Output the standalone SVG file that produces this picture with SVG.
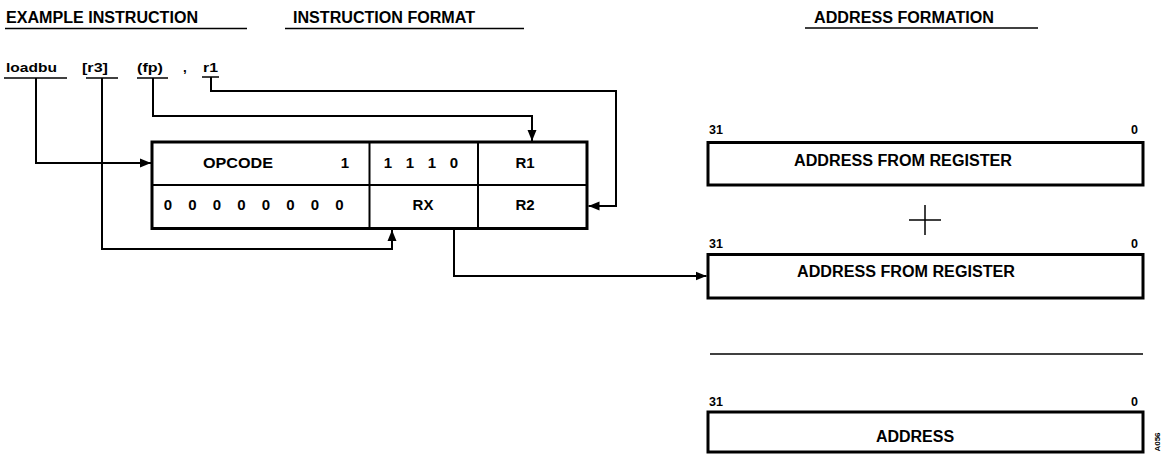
<svg xmlns="http://www.w3.org/2000/svg" width="1170" height="456" viewBox="0 0 1170 456">
<style>
text{font-family:"Liberation Sans",Arial,sans-serif;font-weight:bold;fill:#000}
.h{font-size:16px}
.ins{font-size:13.5px}
.bx{font-size:15px}
.rb{font-size:16px}
.num{font-size:12.5px}
.ul{stroke:#000;stroke-width:1.5;fill:none}
.outer{fill:#fff;stroke:#000;stroke-width:3}
.inner{stroke:#000;stroke-width:2;fill:none}
.conn{stroke:#000;stroke-width:2;fill:none;marker-end:url(#arr)}
</style>
<defs>
<marker id="arr" markerUnits="userSpaceOnUse" markerWidth="12" markerHeight="10" refX="11" refY="5" orient="auto">
<path d="M0,0.5 L11,5 L0,9.5 z" fill="#000"/>
</marker>
</defs>
<rect width="1170" height="456" fill="#fff"/>

<g id="headings">
<text class="h" x="6" y="23" textLength="192" lengthAdjust="spacingAndGlyphs">EXAMPLE INSTRUCTION</text>
<line class="ul" x1="5" y1="28.5" x2="247" y2="28.5"/>
<text class="h" x="293" y="23" textLength="182" lengthAdjust="spacingAndGlyphs">INSTRUCTION FORMAT</text>
<line class="ul" x1="285" y1="28.5" x2="524" y2="28.5"/>
<text class="h" x="814" y="23" textLength="180" lengthAdjust="spacingAndGlyphs">ADDRESS FORMATION</text>
<line class="ul" x1="805" y1="28" x2="1038" y2="28"/>
</g>

<g id="example-instruction">
<text class="ins" x="6" y="72" textLength="51" lengthAdjust="spacingAndGlyphs">loadbu</text>
<line class="ul" x1="4" y1="78" x2="67" y2="78"/>
<text class="ins" x="82" y="72" textLength="26" lengthAdjust="spacingAndGlyphs">[r3]</text>
<line class="ul" x1="86" y1="78" x2="118" y2="78"/>
<text class="ins" x="137" y="72" textLength="26" lengthAdjust="spacingAndGlyphs">(fp)</text>
<line class="ul" x1="137" y1="78" x2="168" y2="78"/>
<text class="ins" x="183" y="72">,</text>
<text class="ins" x="203" y="72" textLength="15" lengthAdjust="spacingAndGlyphs">r1</text>
<line class="ul" x1="202" y1="77" x2="219" y2="77"/>
</g>

<g id="instruction-format">
<rect class="outer" x="152" y="142" width="435" height="86.5"/>
<line class="inner" x1="152" y1="185" x2="587" y2="185"/>
<line class="inner" x1="369.5" y1="142" x2="369.5" y2="228.5"/>
<line class="inner" x1="478" y1="142" x2="478" y2="228.5"/>
<text class="bx" x="238" y="168" text-anchor="middle" textLength="70" lengthAdjust="spacingAndGlyphs">OPCODE</text>
<text class="bx" x="345" y="168" text-anchor="middle">1</text>
<text class="bx" x="388" y="168" text-anchor="middle">1</text>
<text class="bx" x="410" y="168" text-anchor="middle">1</text>
<text class="bx" x="432" y="168" text-anchor="middle">1</text>
<text class="bx" x="454" y="168" text-anchor="middle">0</text>
<text class="bx" x="525" y="168" text-anchor="middle">R1</text>
<text class="bx" x="168" y="210" text-anchor="middle">0</text>
<text class="bx" x="192.5" y="210" text-anchor="middle">0</text>
<text class="bx" x="217" y="210" text-anchor="middle">0</text>
<text class="bx" x="241.5" y="210" text-anchor="middle">0</text>
<text class="bx" x="266" y="210" text-anchor="middle">0</text>
<text class="bx" x="290.5" y="210" text-anchor="middle">0</text>
<text class="bx" x="315" y="210" text-anchor="middle">0</text>
<text class="bx" x="339.5" y="210" text-anchor="middle">0</text>
<text class="bx" x="423" y="210" text-anchor="middle">RX</text>
<text class="bx" x="525" y="210" text-anchor="middle">R2</text>
</g>

<g id="reg-a">
<text class="num" x="709" y="134">31</text>
<text class="num" x="1138" y="134" text-anchor="end">0</text>
<rect class="outer" x="708" y="142.5" width="435" height="42.5"/>
<text class="rb" x="903" y="166" text-anchor="middle" textLength="218" lengthAdjust="spacingAndGlyphs">ADDRESS FROM REGISTER</text>
</g>

<g id="plus">
<line x1="925" y1="205" x2="925" y2="235" stroke="#000" stroke-width="1.5"/>
<line x1="909" y1="220" x2="941" y2="220" stroke="#000" stroke-width="1.5"/>
</g>

<g id="reg-b">
<text class="num" x="709" y="248">31</text>
<text class="num" x="1138" y="248" text-anchor="end">0</text>
<rect class="outer" x="708" y="254.5" width="435" height="43.5"/>
<text class="rb" x="906" y="277" text-anchor="middle" textLength="218" lengthAdjust="spacingAndGlyphs">ADDRESS FROM REGISTER</text>
</g>

<g id="sum-line">
<line x1="710" y1="354" x2="1143" y2="354" stroke="#000" stroke-width="1.5"/>
</g>

<g id="address">
<text class="num" x="709" y="406">31</text>
<text class="num" x="1138" y="406" text-anchor="end">0</text>
<rect class="outer" x="708" y="412" width="435" height="40"/>
<text class="rb" x="915" y="442" text-anchor="middle">ADDRESS</text>
</g>

<g id="connectors">
<path class="conn" d="M36,78 V163 H151"/>
<path class="conn" d="M102,78 V249 H392 V230"/>
<path class="conn" d="M153,78 V116 H532 V141"/>
<path class="conn" d="M211,77 V91 H616 V206 H588.5"/>
<path class="conn" d="M454,229 V276 H706.5"/>
</g>

<text x="1160" y="442" text-anchor="middle" transform="rotate(-90 1160 442)" style="font-size:8px">A056</text>
</svg>
